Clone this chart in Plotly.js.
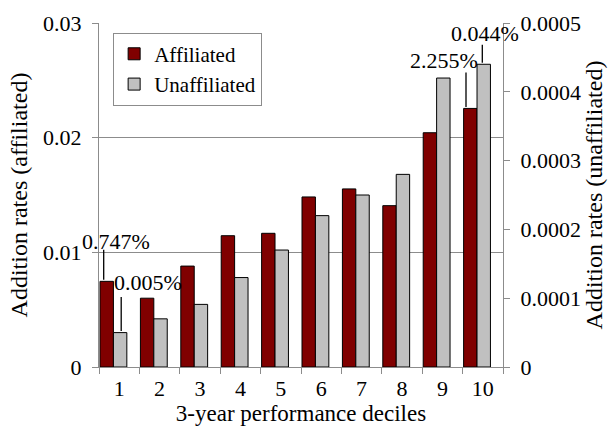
<!DOCTYPE html>
<html>
<head>
<meta charset="utf-8">
<script src="https://cdn.plot.ly/plotly-3.0.1.min.js"></script>
<style>html,body{margin:0;padding:0;background:#fff}#chart{width:608px;height:427px}</style>
</head>
<body>
<div id="chart"></div>
<script>
// ---- data ----
const deciles = ['1', '2', '3', '4', '5', '6', '7', '8', '9', '10'];
const affiliated = [0.00747, 0.0060, 0.0088, 0.01145, 0.01166, 0.01483, 0.01553, 0.01407, 0.02043, 0.02255];
const unaffiliated = [0.00005, 0.000070, 0.000091, 0.00013, 0.00017, 0.00022, 0.00025, 0.00028, 0.00042, 0.00044];
const labelText = ['0.747%', '0.005%', '2.255%', '0.044%'];
const labelDecile = ['1', '1', '10', '10'];
const labelSeries = ['affiliated', 'unaffiliated', 'affiliated', 'unaffiliated'];

// ---- styling ----
const FONT = '"Liberation Serif", "DejaVu Serif", serif';
const GRID = '#8c8c8c';
const barW = 0.332;
const barStart = -0.475;

const traces = [
  {
    type: 'bar', name: 'Affiliated', x: deciles, y: affiliated, yaxis: 'y',
    width: barW, offset: barStart,
    marker: {color: '#800000', line: {color: '#000', width: 1}}
  },
  {
    type: 'bar', name: 'Unaffiliated', x: deciles, y: unaffiliated, yaxis: 'y2',
    width: barW, offset: barStart + barW,
    marker: {color: '#c0c0c0', line: {color: '#000', width: 1}}
  }
];

// label placement (pixels relative to the category centre / bar top)
const textShift = [[-3, 40], [29, 50], [-38.8, 48], [2.2, 31]];
const lineShift = [[-15.5, 33], [2, 37], [-16.8, 37.5], [-0.5, 21]];

const annotations = [];
labelText.forEach((t, i) => {
  const idx = deciles.indexOf(labelDecile[i]);
  const isAff = labelSeries[i] === 'affiliated';
  const val = isAff ? affiliated[idx] : unaffiliated[idx];
  const yref = isAff ? 'y' : 'y2';
  annotations.push({
    x: idx, y: val, xref: 'x', yref: yref, text: t, showarrow: false,
    xanchor: 'center', yanchor: 'middle', xshift: textShift[i][0], yshift: textShift[i][1],
    font: {family: FONT, size: 22, color: '#000'}
  });
  annotations.push({
    x: idx, y: val, xref: 'x', yref: yref, text: '', showarrow: true,
    arrowhead: 0, arrowwidth: 1.3, arrowcolor: '#000', ax: 0, ay: -lineShift[i][1],
    standoff: 1.5, xshift: lineShift[i][0]
  });
});

const layout = {
  width: 608, height: 427,
  margin: {l: 99, r: 105, t: 23, b: 60},
  paper_bgcolor: '#fff', plot_bgcolor: '#fff',
  font: {family: FONT, size: 22, color: '#000'},
  barmode: 'overlay',
  showlegend: true,
  legend: {
    x: 0.035, y: 0.972, xanchor: 'left', yanchor: 'top',
    bgcolor: '#fff', bordercolor: GRID, borderwidth: 1,
    font: {family: FONT, size: 21, color: '#000'},
    tracegroupgap: 0
  },
  xaxis: {
    type: 'category', range: [-0.5, 9.5], autorange: false,
    tickson: 'boundaries', ticks: 'outside', ticklen: 6, tickcolor: GRID,
    showline: true, linecolor: GRID, linewidth: 1, showgrid: false,
    ticklabelstandoff: 2,
    tickfont: {family: FONT, size: 22},
    title: {text: '3-year performance deciles', font: {family: FONT, size: 23}, standoff: 2}
  },
  yaxis: {
    range: [0, 0.03], dtick: 0.01, tick0: 0, tickformat: '~g',
    ticks: 'outside', ticklen: 6, tickcolor: GRID,
    showline: true, linecolor: GRID, showgrid: true, gridcolor: GRID, gridwidth: 1,
    zeroline: false, ticklabelstandoff: 6,
    tickfont: {family: FONT, size: 22},
    title: {text: 'Addition rates (affiliated)', font: {family: FONT, size: 24}, standoff: 8}
  },
  yaxis2: {
    overlaying: 'y', side: 'right', range: [0, 0.0005], dtick: 0.0001, tick0: 0,
    tickformat: '~g', ticks: 'outside', ticklen: 6, tickcolor: GRID,
    showline: true, linecolor: GRID, showgrid: false, zeroline: false, ticklabelstandoff: 6,
    tickfont: {family: FONT, size: 22},
    title: {text: 'Addition rates (unaffiliated)', font: {family: FONT, size: 24}, standoff: 4}
  },
  annotations: annotations
};

Plotly.newPlot('chart', traces, layout, {displayModeBar: false, staticPlot: true});
</script>
</body>
</html>
